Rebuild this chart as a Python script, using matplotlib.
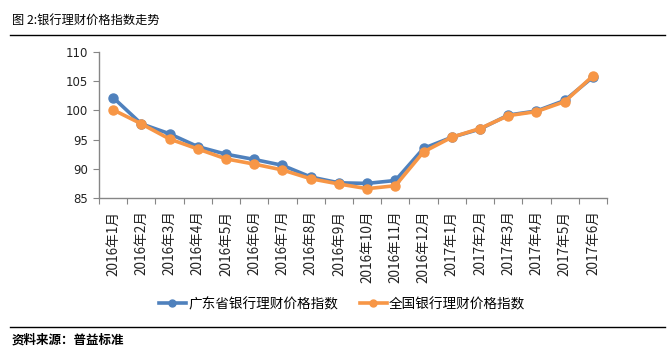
import matplotlib.pyplot as plt
import numpy as np
from matplotlib.lines import Line2D

plt.rcParams['font.family'] = ['Noto Sans CJK SC', 'DejaVu Sans']

months = ['2016年1月', '2016年2月', '2016年3月', '2016年4月', '2016年5月', '2016年6月',
          '2016年7月', '2016年8月', '2016年9月', '2016年10月', '2016年11月', '2016年12月',
          '2017年1月', '2017年2月', '2017年3月', '2017年4月', '2017年5月', '2017年6月']
guangdong = [102.2, 97.7, 96.0, 93.8, 92.5, 91.6, 90.6, 88.6, 87.6, 87.5, 88.0, 93.5,
             95.4, 96.8, 99.2, 99.9, 101.7, 105.7]
national = [100.1, 97.7, 95.1, 93.4, 91.7, 90.8, 89.8, 88.3, 87.4, 86.6, 87.1, 92.9,
            95.4, 96.9, 99.1, 99.8, 101.5, 105.9]
yticks = [85, 90, 95, 100, 105, 110]

blue = '#4F81BD'
orange = '#F79646'
axis_grey = '#868686'

fig = plt.figure(figsize=(6.72, 3.57), dpi=100)
ax = fig.add_axes([99 / 672, 1 - 198 / 357, 508 / 672, 146 / 357])

x = np.arange(len(months))
ax.plot(x, guangdong, color=blue, lw=2.6, marker='o', ms=6.5, label='广东省银行理财价格指数')
ax.plot(x, national, color=orange, lw=2.6, marker='o', ms=6.5, label='全国银行理财价格指数')

ax.set_xlim(-0.5, len(months) - 0.5)
ax.set_ylim(85, 110)
ax.set_yticks(yticks)
ax.set_yticklabels([str(v) for v in yticks], fontsize=8.5, color='#222222', family='DejaVu Sans')

# category ticks sit between points, labels under points
ax.set_xticks(np.arange(-0.5, len(months)), minor=False)
ax.set_xticklabels([])
ax.set_xticks(x, minor=True)
ax.set_xticklabels(months, minor=True, rotation=90, fontsize=9.8, color='#222222')
ax.tick_params(axis='x', which='major', length=4, color=axis_grey, direction='out')
ax.tick_params(axis='x', which='minor', length=0, pad=9)
ax.tick_params(axis='y', length=4, color=axis_grey, direction='out', pad=4)

for s in ['top', 'right']:
    ax.spines[s].set_visible(False)
for s in ['left', 'bottom']:
    ax.spines[s].set_color(axis_grey)
    ax.spines[s].set_linewidth(1)

handles = [Line2D([], [], color=blue, lw=2.6, marker='o', ms=5),
           Line2D([], [], color=orange, lw=2.6, marker='o', ms=5)]
fig.legend(handles, ['广东省银行理财价格指数', '全国银行理财价格指数'], loc='center',
           bbox_to_anchor=(342 / 672, 1 - 304 / 357), ncol=2, frameon=False,
           fontsize=9.8, handlelength=2.0, handletextpad=0.15, columnspacing=1.6)

fig.text(12 / 672, 1 - 20 / 357, '图 2:银行理财价格指数走势', fontsize=8.8, va='center', ha='left')
fig.add_artist(Line2D([10 / 672, 665 / 672], [1 - 35 / 357] * 2, color='black', lw=1))
fig.add_artist(Line2D([10 / 672, 665 / 672], [1 - 327 / 357] * 2, color='black', lw=1))
fig.text(12 / 672, 1 - 340 / 357, '资料来源：普益标准', fontsize=9, va='center', ha='left',
         fontweight='bold')

fig.savefig('out.png', dpi=100)
